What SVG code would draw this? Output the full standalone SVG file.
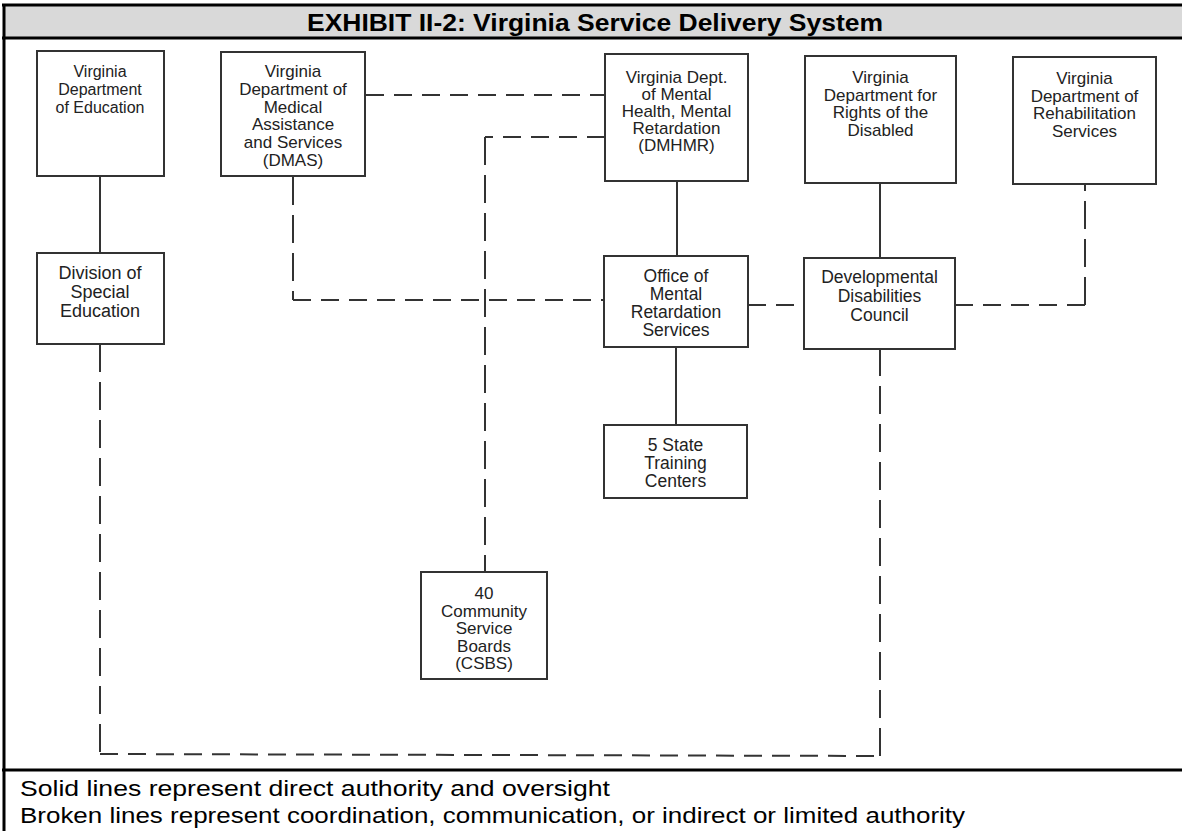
<svg xmlns="http://www.w3.org/2000/svg" width="1182" height="831" viewBox="0 0 1182 831">
<style>
.box{fill:#fff;stroke:#333;stroke-width:2}
.t{font-family:"Liberation Sans",Arial,sans-serif;font-size:17px;fill:#222;text-anchor:middle}
.s{stroke:#333;stroke-width:2;fill:none}
.dh{stroke:#333;stroke-width:2;fill:none;stroke-dasharray:18 10}
.dv{stroke:#333;stroke-width:2;fill:none;stroke-dasharray:28 10}
.frame{stroke:#000;stroke-width:3;fill:none}
.title{font-family:"Liberation Sans",Arial,sans-serif;font-size:24px;font-weight:bold;fill:#000}
.legend{font-family:"Liberation Sans",Arial,sans-serif;font-size:22px;fill:#000}
</style>
<rect width="1182" height="831" fill="#fff"/>
<g id="frame">
<rect x="4" y="5" width="1180" height="33" fill="#d9d9d9"/>
<line class="frame" x1="2" y1="5" x2="1182" y2="5"/>
<line class="frame" x1="2" y1="38" x2="1182" y2="38"/>
<line class="frame" x1="4" y1="4" x2="4" y2="831"/>
<line class="frame" x1="2" y1="770" x2="1182" y2="770"/>
<text class="title" x="307" y="31" textLength="576" lengthAdjust="spacingAndGlyphs">EXHIBIT II-2: Virginia Service Delivery System</text>
</g>
<g id="connectors">
<line class="s" x1="100" y1="176" x2="100" y2="253"/>
<line class="dh" x1="366" y1="95" x2="605" y2="95"/>
<line class="dv" x1="293" y1="177" x2="293" y2="300"/>
<line class="dh" x1="293" y1="300" x2="604" y2="300"/>
<line class="dh" x1="605" y1="137" x2="485" y2="137"/>
<line class="dv" x1="485" y1="137" x2="485" y2="572"/>
<line class="s" x1="677" y1="181" x2="677" y2="256"/>
<line class="s" x1="880" y1="183" x2="880" y2="258"/>
<line class="s" x1="676" y1="347" x2="676" y2="425"/>
<line class="dh" x1="748" y1="305" x2="804" y2="305"/>
<line class="dh" x1="955" y1="305" x2="1085" y2="305"/>
<line class="dv" x1="1085" y1="305" x2="1085" y2="184"/>
<line class="dv" x1="100" y1="344" x2="100" y2="754"/>
<line class="dh" x1="100" y1="754" x2="880" y2="756"/>
<line class="dv" x1="880" y1="756" x2="880" y2="349"/>
</g>
<g id="edu">
<rect class="box" x="37" y="51" width="127" height="125"/>
<text class="t" style="font-size:16px"><tspan x="100" y="77">Virginia</tspan><tspan x="100" y="95">Department</tspan><tspan x="100" y="113">of Education</tspan></text>
</g>
<g id="dmas">
<rect class="box" x="221" y="52" width="144" height="124"/>
<text class="t"><tspan x="293" y="77">Virginia</tspan><tspan x="293" y="95">Department of</tspan><tspan x="293" y="112.5">Medical</tspan><tspan x="293" y="130">Assistance</tspan><tspan x="293" y="148">and Services</tspan><tspan x="293" y="165.5">(DMAS)</tspan></text>
</g>
<g id="dmhmr">
<rect class="box" x="605" y="54" width="143" height="127"/>
<text class="t"><tspan x="676.5" y="83">Virginia Dept.</tspan><tspan x="676.5" y="100">of Mental</tspan><tspan x="676.5" y="117">Health, Mental</tspan><tspan x="676.5" y="134">Retardation</tspan><tspan x="676.5" y="151">(DMHMR)</tspan></text>
</g>
<g id="rights">
<rect class="box" x="805" y="56" width="151" height="127"/>
<text class="t"><tspan x="880.5" y="83">Virginia</tspan><tspan x="880.5" y="100.5">Department for</tspan><tspan x="880.5" y="118">Rights of the</tspan><tspan x="880.5" y="135.5">Disabled</tspan></text>
</g>
<g id="rehab">
<rect class="box" x="1013" y="57" width="143" height="127"/>
<text class="t"><tspan x="1084.5" y="84">Virginia</tspan><tspan x="1084.5" y="101.5">Department of</tspan><tspan x="1084.5" y="119">Rehabilitation</tspan><tspan x="1084.5" y="136.5">Services</tspan></text>
</g>
<g id="division">
<rect class="box" x="37" y="253" width="127" height="91"/>
<text class="t" style="font-size:18px"><tspan x="100" y="279">Division of</tspan><tspan x="100" y="298">Special</tspan><tspan x="100" y="317">Education</tspan></text>
</g>
<g id="office">
<rect class="box" x="604" y="256" width="144" height="91"/>
<text class="t" style="font-size:17.5px"><tspan x="676" y="282">Office of</tspan><tspan x="676" y="300">Mental</tspan><tspan x="676" y="318">Retardation</tspan><tspan x="676" y="336">Services</tspan></text>
</g>
<g id="ddc">
<rect class="box" x="804" y="258" width="151" height="91"/>
<text class="t" style="font-size:17.5px"><tspan x="879.5" y="283">Developmental</tspan><tspan x="879.5" y="302">Disabilities</tspan><tspan x="879.5" y="321">Council</tspan></text>
</g>
<g id="training">
<rect class="box" x="604" y="425" width="143" height="73"/>
<text class="t" style="font-size:17.5px"><tspan x="675.5" y="451">5 State</tspan><tspan x="675.5" y="469">Training</tspan><tspan x="675.5" y="487">Centers</tspan></text>
</g>
<g id="csbs">
<rect class="box" x="421" y="572" width="126" height="107"/>
<text class="t"><tspan x="484" y="599">40</tspan><tspan x="484" y="616.5">Community</tspan><tspan x="484" y="634">Service</tspan><tspan x="484" y="651.5">Boards</tspan><tspan x="484" y="669">(CSBS)</tspan></text>
</g>
<g id="legend">
<text class="legend" x="20" y="796" textLength="590" lengthAdjust="spacingAndGlyphs">Solid lines represent direct authority and oversight</text>
<text class="legend" x="20" y="823" textLength="945" lengthAdjust="spacingAndGlyphs">Broken lines represent coordination, communication, or indirect or limited authority</text>
</g>
</svg>
